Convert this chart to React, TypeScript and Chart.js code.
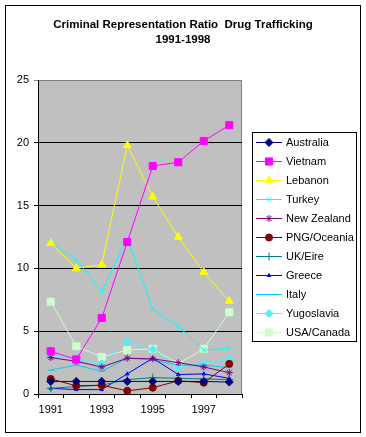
import React, { useEffect, useRef } from "react";
import { Chart, registerables } from "chart.js";
import { drawPoint } from "chart.js/helpers";

Chart.register(...registerables);

const titleLines = ["Criminal Representation Ratio  Drug Trafficking", "1991-1998"];
const categories = ["1991", "1992", "1993", "1994", "1995", "1996", "1997", "1998"];

const australia = [1.0, 1.0, 1.0, 1.0, 1.0, 1.0, 1.0, 0.95];
const vietnam = [3.4, 2.75, 6.05, 12.1, 18.15, 18.45, 20.15, 21.4];
const lebanon = [12.0, 10.0, 10.3, 19.8, 15.7, 12.5, 9.7, 7.4];
const turkey = [12.1, 10.7, 8.15, 12.4, 6.75, 5.4, 3.5, 3.65];
const newZealand = [2.9, 2.6, 2.15, 2.85, 2.8, 2.5, 2.15, 1.7];
const pngOceania = [1.2, 0.65, 0.7, 0.25, 0.5, 1.05, 0.9, 2.4];
const ukEire = [0.45, 0.6, 0.7, 1.15, 1.3, 1.25, 1.2, 1.15];
const greece = [0.45, 0.35, 0.35, 1.6, 2.85, 1.55, 1.6, 1.25];
const italy = [1.9, 2.3, 1.8, 2.85, 2.7, 2.3, 2.3, 2.1];
const yugoslavia = [3.1, 2.8, 2.4, 4.15, 3.55, 2.1, 2.4, 2.8];
const usaCanada = [7.35, 3.8, 2.95, 3.5, 3.6, 2.4, 3.6, 6.5];

const yTicks = [0, 5, 10, 15, 20, 25];

const seriesDefs = [
  { label: "Australia", data: australia, color: "#000080", style: "rectRot", r: 4 },
  { label: "Vietnam", data: vietnam, color: "#FF00FF", style: "rect", r: 5 },
  { label: "Lebanon", data: lebanon, color: "#FFFF00", style: "triangle", r: 4.5 },
  { label: "Turkey", data: turkey, color: "#00FFFF", style: "crossRot", r: 3.5 },
  { label: "New Zealand", data: newZealand, color: "#800080", style: "star", r: 3.5 },
  { label: "PNG/Oceania", data: pngOceania, color: "#800000", style: "circle", r: 3.5 },
  { label: "UK/Eire", data: ukEire, color: "#008080", style: "cross", r: 4 },
  { label: "Greece", data: greece, color: "#0000FF", style: "triangle", r: 2 },
  { label: "Italy", data: italy, color: "#00CCFF", style: "line", r: 3 },
  { label: "Yugoslavia", data: yugoslavia, color: "#55EEFF", style: "rectRot", r: 4 },
  { label: "USA/Canada", data: usaCanada, color: "#CCFFCC", style: "rect", r: 5 },
];

const FONT = "'Liberation Sans', Arial, sans-serif";

export default function App() {
  const ref = useRef<HTMLCanvasElement | null>(null);

  useEffect(() => {
    document.body.style.margin = "0";
    const canvas = ref.current;
    if (!canvas) return;

    const decor = {
      id: "decor",
      beforeDraw(chart: any) {
        const { ctx, chartArea: a } = chart;
        ctx.save();
        ctx.fillStyle = "#ffffff";
        ctx.fillRect(0, 0, chart.width, chart.height);
        ctx.fillStyle = "#C0C0C0";
        ctx.fillRect(a.left, a.top, a.right - a.left, a.bottom - a.top);
        ctx.strokeStyle = "#808080";
        ctx.lineWidth = 1;
        ctx.strokeRect(a.left + 0.5, a.top + 0.5, a.right - a.left - 1, a.bottom - a.top);
        ctx.restore();
      },
      afterDraw(chart: any) {
        const { ctx } = chart;
        ctx.save();
        // outer border
        ctx.strokeStyle = "#000000";
        ctx.lineWidth = 1;
        ctx.strokeRect(5.5, 5.5, 355, 427);
        // title
        ctx.fillStyle = "#000000";
        ctx.font = `bold 11.5px ${FONT}`;
        ctx.textAlign = "center";
        ctx.textBaseline = "middle";
        ctx.fillText(titleLines[0], 183, 25);
        ctx.fillText(titleLines[1], 183, 40);
        // legend
        const lx = 252, ly = 132, lw = 104, lh = 209;
        ctx.fillStyle = "#ffffff";
        ctx.fillRect(lx, ly, lw, lh);
        ctx.strokeStyle = "#000000";
        ctx.strokeRect(lx + 0.5, ly + 0.5, lw, lh);
        chart.data.datasets.forEach((ds: any, i: number) => {
          const y = 142 + i * 19;
          ctx.strokeStyle = ds.borderColor;
          ctx.lineWidth = 1;
          ctx.beginPath();
          ctx.moveTo(256, y + 0.5);
          ctx.lineTo(282, y + 0.5);
          ctx.stroke();
          ctx.fillStyle = ds.pointBackgroundColor;
          ctx.strokeStyle = ds.pointBorderColor;
          drawPoint(ctx, { pointStyle: ds.pointStyle, radius: ds.pointRadius, borderWidth: 1, rotation: 0 }, 269, y + 0.5);
          ctx.fillStyle = "#000000";
          ctx.font = `11px ${FONT}`;
          ctx.textAlign = "left";
          ctx.textBaseline = "middle";
          ctx.fillText(ds.label, 286, y + 1);
        });
        ctx.restore();
      },
    };

    const chart = new Chart(canvas, {
      type: "line",
      data: {
        labels: categories,
        datasets: seriesDefs.map((s) => ({
          label: s.label,
          data: s.data,
          borderColor: s.color,
          backgroundColor: s.color,
          pointBackgroundColor: s.color,
          pointBorderColor: s.color,
          pointStyle: s.style as any,
          pointRadius: s.r,
          pointBorderWidth: 1,
          borderWidth: 1,
          tension: 0,
          fill: false,
        })),
      },
      options: {
        animation: false,
        responsive: false,
        maintainAspectRatio: false,
        layout: { padding: { left: 0, right: 124, top: 80, bottom: 0 } },
        plugins: {
          legend: { display: false },
          title: { display: false },
          tooltip: { enabled: false },
        },
        scales: {
          x: {
            offset: true,
            afterFit(scale: any) {
              scale.height = 43;
            },
            grid: {
              offset: true,
              drawOnChartArea: false,
              drawTicks: true,
              tickLength: 4,
              color: "#000000",
            },
            border: { color: "#000000", width: 1 },
            ticks: {
              autoSkip: false,
              maxRotation: 0,
              padding: 5,
              color: "#000000",
              font: { family: FONT, size: 11 },
              callback(_v: any, i: number) {
                return i % 2 === 0 ? categories[i] : "";
              },
            },
          },
          y: {
            min: yTicks[0],
            max: yTicks[yTicks.length - 1],
            afterFit(scale: any) {
              scale.width = 38;
            },
            afterBuildTicks(scale: any) {
              scale.ticks = yTicks.map((v) => ({ value: v }));
            },
            grid: {
              drawTicks: true,
              tickLength: 4,
              color: (c: any) => (c.tick && c.tick.value === 25 ? "#808080" : "#000000"),
            },
            border: { color: "#000000", width: 1 },
            ticks: {
              padding: 5,
              color: "#000000",
              font: { family: FONT, size: 11 },
            },
          },
        },
      },
      plugins: [decor],
    });

    return () => chart.destroy();
  }, []);

  return (
    <div style={{ width: 366, height: 437 }}>
      <canvas ref={ref} width={366} height={437} style={{ display: "block" }} />
    </div>
  );
}
